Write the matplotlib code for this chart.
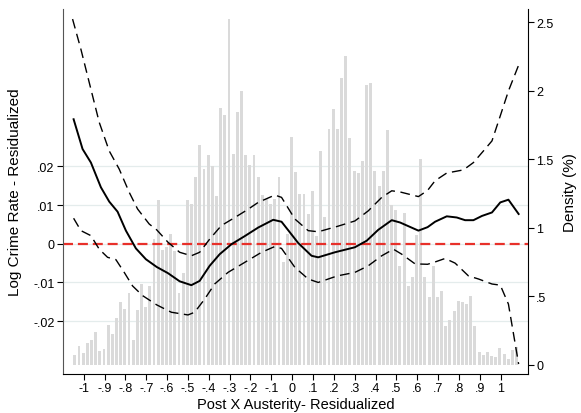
import numpy as np
import matplotlib
matplotlib.use("Agg")
import matplotlib.pyplot as plt

plt.rcParams["font.family"] = ["Liberation Sans", "DejaVu Sans"]

# histogram of the treatment variable (density, %), bins of width 0.02
density = [
    0.073, 0.139, 0.088, 0.156, 0.18, 0.236, 0.10, 0.112, 0.29, 0.227, 0.341,
    0.458, 0.409, 0.526, 0.178, 0.397, 0.592, 0.424, 0.575, 0.921, 1.204,
    0.838, 0.86, 0.955, 0.828, 0.526, 0.668, 1.199, 1.170, 1.367, 1.603, 1.428,
    1.528, 1.450, 1.233, 1.876, 1.823, 2.527, 1.535, 1.847, 2.0, 1.528,
    1.46, 1.528, 1.367, 1.24, 1.21, 1.174, 1.21, 1.369, 0.748, 0.955, 1.662,
    1.408, 1.248, 1.245, 1.101, 1.267, 0.936, 1.562, 1.079, 1.723, 1.864, 1.723,
    2.096, 2.254, 1.654, 1.416, 1.401, 1.489, 2.039, 2.054, 1.416, 1.306, 1.413,
    1.715, 1.167, 1.13, 0.719, 1.106, 0.575, 0.643, 0.948, 1.5, 0.638, 0.497,
    0.72, 0.497, 0.54, 0.285, 0.329, 0.392, 0.468, 0.455, 0.44, 0.504, 0.28,
    0.09, 0.073, 0.093, 0.063, 0.058, 0.122, 0.08, 0.039, 0.107, 0.129,
]
bin_start = -1.043
bin_width = 0.02

# local estimate and confidence band
est_x = [-1.049, -1.006, -0.966, -0.918, -0.878, -0.838, -0.798, -0.750, -0.702,
         -0.650, -0.596, -0.540, -0.484, -0.444, -0.396, -0.348, -0.291, -0.227,
         -0.163, -0.091, -0.051, 0.029, 0.093, 0.125, 0.205, 0.301, 0.358, 0.413,
         0.478, 0.518, 0.606, 0.650, 0.686, 0.742, 0.790, 0.830, 0.870, 0.911,
         0.959, 0.999, 1.038, 1.087]
est_y = [0.0322, 0.0245, 0.0210, 0.0146, 0.0109, 0.0083, 0.0034, -0.0012, -0.0040,
         -0.0060, -0.0076, -0.0097, -0.0107, -0.0096, -0.0057, -0.0027, -0.0001, 0.0020,
         0.0042, 0.0062, 0.0057, 0.0002, -0.0031, -0.0035, -0.0022, -0.0009, 0.0008, 0.0036,
         0.0061, 0.0055, 0.0034, 0.0043, 0.0057, 0.0071, 0.0068, 0.0061, 0.0061, 0.0072,
         0.0081, 0.0107, 0.0114, 0.0077]

hi_x = [-1.054, -1.014, -0.974, -0.926, -0.878, -0.830, -0.782, -0.742, -0.686,
        -0.650, -0.596, -0.540, -0.484, -0.444, -0.396, -0.340, -0.275, -0.215,
        -0.163, -0.083, -0.051, 0.013, 0.077, 0.125, 0.217, 0.301, 0.365, 0.430,
        0.478, 0.518, 0.606, 0.650, 0.686, 0.742, 0.822, 0.870, 0.918, 0.959,
        0.999, 1.038, 1.087]
hi_y = [0.0581, 0.0503, 0.0417, 0.0314, 0.0240, 0.0193, 0.0133, 0.0090, 0.0051,
        0.0036, 0.0004, -0.0022, -0.0031, -0.0022, 0.0012, 0.0047, 0.0068, 0.0088,
        0.0107, 0.0126, 0.0120, 0.0064, 0.0034, 0.0031, 0.0045, 0.0059, 0.0085, 0.0120,
        0.0137, 0.0134, 0.0122, 0.0138, 0.0163, 0.0183, 0.0191, 0.0210, 0.0240, 0.0266,
        0.0331, 0.0395, 0.0462]

lo_x = [-1.049, -1.014, -0.966, -0.926, -0.886, -0.846, -0.806, -0.766, -0.718,
        -0.650, -0.580, -0.500, -0.468, -0.420, -0.372, -0.308, -0.215, -0.147,
        -0.083, -0.051, 0.013, 0.077, 0.125, 0.217, 0.301, 0.365, 0.430, 0.486,
        0.526, 0.590, 0.650, 0.686, 0.734, 0.782, 0.846, 0.894, 0.959, 0.999,
        1.038, 1.087]
lo_y = [0.0066, 0.0034, 0.0021, -0.0014, -0.0035, -0.0041, -0.0074, -0.0109, -0.0134,
        -0.0158, -0.0177, -0.0184, -0.0177, -0.0143, -0.0104, -0.0074, -0.0044, -0.0022,
        -0.0007, -0.0012, -0.0061, -0.0091, -0.0100, -0.0083, -0.0074, -0.0057, -0.0031, -0.0014,
        -0.0027, -0.0052, -0.0053, -0.0047, -0.0038, -0.0050, -0.0083, -0.0091, -0.0104, -0.0107,
        -0.0156, -0.0311]

x_ticks = [-1, -0.9, -0.8, -0.7, -0.6, -0.5, -0.4, -0.3, -0.2, -0.1,
           0, 0.1, 0.2, 0.3, 0.4, 0.5, 0.6, 0.7, 0.8, 0.9, 1]
x_labels = ["-1", "-.9", "-.8", "-.7", "-.6", "-.5", "-.4", "-.3", "-.2", "-.1",
            "0", ".1", ".2", ".3", ".4", ".5", ".6", ".7", ".8", ".9", "1"]
left_ticks = [-0.02, -0.01, 0, 0.01, 0.02]
left_labels = ["-.02", "-.01", "0", ".01", ".02"]
right_ticks = [0, 0.5, 1, 1.5, 2, 2.5]
right_labels = ["0", ".5", "1", "1.5", "2", "2.5"]

fig = plt.figure(figsize=(5.81, 4.14), dpi=100)
ax = fig.add_axes([0.1084, 0.0942, 0.8004, 0.8816])
axr = ax.twinx()
ax.set_zorder(axr.get_zorder() + 1)
ax.patch.set_visible(False)

# faint grid at the left-axis ticks, behind the bars
for y in left_ticks:
    axr.plot([0, 1], [y, y], transform=ax.get_yaxis_transform(),
             color="#e4ecec", lw=0.9, zorder=0)

centers = bin_start + bin_width * np.arange(len(density))
axr.bar(centers, density, width=0.014, color="#dadada", linewidth=0, zorder=1)

ax.axhline(0, color="#e8302a", lw=1.6, dashes=(4.5, 2.2), zorder=2)
ax.plot(hi_x, hi_y, color="black", lw=1.0, dashes=(7, 4), zorder=3)
ax.plot(lo_x, lo_y, color="black", lw=1.0, dashes=(7, 4), zorder=3)
ax.plot(est_x, est_y, color="black", lw=1.4, zorder=4)

ax.set_xlim(-1.10, 1.132)
ax.set_ylim(-0.03367, 0.0607)
axr.set_ylim(-0.068, 2.597)

ax.set_xticks(x_ticks)
ax.set_xticklabels(x_labels)
ax.set_yticks(left_ticks)
ax.set_yticklabels(left_labels)
axr.set_yticks(right_ticks)
axr.set_yticklabels(right_labels)

for a in (ax, axr):
    a.spines["top"].set_visible(False)
    a.tick_params(labelsize=9, length=4, width=0.8, color="black", pad=2)
ax.spines["right"].set_visible(False)
ax.spines["left"].set_color("#555555")
axr.spines["left"].set_visible(False)
axr.spines["bottom"].set_visible(False)

ax.set_xlabel("Post X Austerity- Residualized", fontsize=10.5, labelpad=2)
ax.set_ylabel("Log Crime Rate - Residualized", fontsize=11, labelpad=8)
axr.set_ylabel("Density (%)", fontsize=11, labelpad=7)

fig.savefig("out.png", dpi=100)
